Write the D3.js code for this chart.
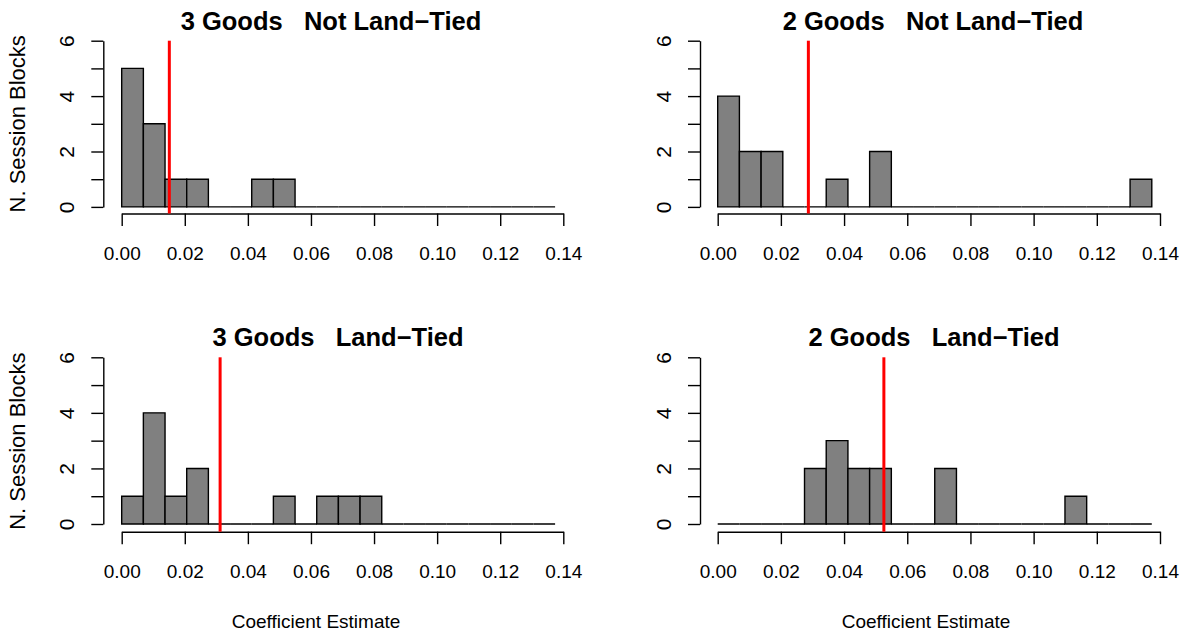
<!DOCTYPE html>
<html>
<head>
<meta charset="utf-8">
<script src="https://cdn.jsdelivr.net/npm/d3@7"></script>
<style>
  html, body { margin: 0; padding: 0; background: #fff; }
  svg { display: block; font-family: "Liberation Sans", Arial, Helvetica, sans-serif; }
  text { white-space: pre; }
</style>
</head>
<body>
<svg id="chart" width="1185" height="638"></svg>
<script>
// ---- data ----
const panelTitles = ["3 Goods   Not Land\u2212Tied", "2 Goods   Not Land\u2212Tied",
                     "3 Goods   Land\u2212Tied", "2 Goods   Land\u2212Tied"];
const binStart = 0.0;
const binEnd = 0.1374;      // upper edge of the last bin
const nBins = 20;
const counts3NotLand = [5,3,1,1,0,0,1,1,0,0,0,0,0,0,0,0,0,0,0,0];
const counts2NotLand = [4,2,2,0,0,1,0,2,0,0,0,0,0,0,0,0,0,0,0,1];
const counts3Land    = [1,4,1,2,0,0,0,1,0,1,1,1,0,0,0,0,0,0,0,0];
const counts2Land    = [0,0,0,0,2,3,2,2,0,0,2,0,0,0,0,0,1,0,0,0];
const meanLines = [0.0151, 0.0287, 0.0312, 0.0526];
const xTicks = [0.00, 0.02, 0.04, 0.06, 0.08, 0.10, 0.12, 0.14];
const yTicks = [0, 1, 2, 3, 4, 5, 6];
const yTickLabels = ["0", "", "2", "", "4", "", "6"];
const yLabel = "N. Session Blocks";
const xLabel = "Coefficient Estimate";

const allCounts = [counts3NotLand, counts2NotLand, counts3Land, counts2Land];

// ---- layout ----
const svg = d3.select("#chart");
const colX = [{x0: 121.7, x1: 563.3, yAxisX: 103.3}, {x0: 717.7, x1: 1160, yAxisX: 700}];
const rowY = [{y0: 206.9, y6: 40.7, axisY: 213.5}, {y0: 524, y6: 357.3, axisY: 531.7}];
const titleCenters = [331, 933, 338, 934];
const xLabelCenters = [316, 926];
const fontTick = 19;
const fontTitle = 25.5;

const binW = (binEnd - binStart) / nBins;

allCounts.forEach((counts, i) => {
  const col = i % 2, row = Math.floor(i / 2);
  const C = colX[col], R = rowY[row];
  const x = d3.scaleLinear().domain([0, 0.14]).range([C.x0, C.x1]);
  const y = d3.scaleLinear().domain([0, 6]).range([R.y0, R.y6]);
  const g = svg.append("g");

  // bars (paths so zero-count bins still draw their outline on the baseline)
  const bins = counts.map((c, k) => ({lo: binStart + k * binW, hi: binStart + (k + 1) * binW, c}));
  g.selectAll("path.bar").data(bins).enter().append("path")
    .attr("class", "bar")
    .attr("d", d => `M${x(d.lo)},${y(0)}V${y(d.c)}H${x(d.hi)}V${y(0)}Z`)
    .attr("fill", "#808080")
    .attr("stroke", "#000")
    .attr("stroke-width", 1.4);

  // x axis
  const xa = g.append("g").attr("transform", `translate(0,${R.axisY})`)
    .call(d3.axisBottom(x).tickValues(xTicks).tickSize(12.5).tickSizeOuter(0)
      .tickFormat(d3.format(".2f")));
  xa.select(".domain").attr("stroke", "#000").attr("stroke-width", 1.4);
  xa.selectAll(".tick line").attr("stroke", "#000").attr("stroke-width", 1.4);
  xa.selectAll(".tick text").attr("font-size", fontTick).attr("fill", "#000")
    .attr("font-family", "Liberation Sans, Arial, sans-serif")
    .attr("y", 46.5).attr("dy", 0);

  // y axis
  const ya = g.append("g").attr("transform", `translate(${C.yAxisX},0)`)
    .call(d3.axisLeft(y).tickValues(yTicks).tickSize(12).tickSizeOuter(0)
      .tickFormat((d, k) => yTickLabels[k]));
  ya.select(".domain").attr("stroke", "#000").attr("stroke-width", 1.4);
  ya.selectAll(".tick line").attr("stroke", "#000").attr("stroke-width", 1.4);
  ya.selectAll(".tick text").attr("font-size", 21).attr("fill", "#000")
    .attr("font-family", "Liberation Sans, Arial, sans-serif")
    .attr("x", 0).attr("y", 0).attr("dy", 0)
    .attr("text-anchor", "middle")
    .attr("transform", "translate(-29,0) rotate(-90)");

  // mean line
  g.append("line")
    .attr("x1", x(meanLines[i])).attr("x2", x(meanLines[i]))
    .attr("y1", y(6)).attr("y2", R.axisY)
    .attr("stroke", "#ff0000").attr("stroke-width", 3);

  // title
  g.append("text")
    .attr("x", titleCenters[i])
    .attr("y", R.y6 - 11)
    .attr("text-anchor", "middle")
    .attr("font-size", fontTitle).attr("font-weight", "bold")
    .text(panelTitles[i]);

  // y label (left column only)
  if (col === 0) {
    g.append("text")
      .attr("transform", `translate(25,${(R.axisY + (R.y6 - 6.6)) / 2}) rotate(-90)`)
      .attr("text-anchor", "middle")
      .attr("font-size", 22)
      .text(yLabel);
  }
  // x label (bottom row only)
  if (row === 1) {
    g.append("text")
      .attr("x", xLabelCenters[col])
      .attr("y", 628)
      .attr("text-anchor", "middle")
      .attr("font-size", fontTick)
      .text(xLabel);
  }
});
</script>
</body>
</html>
